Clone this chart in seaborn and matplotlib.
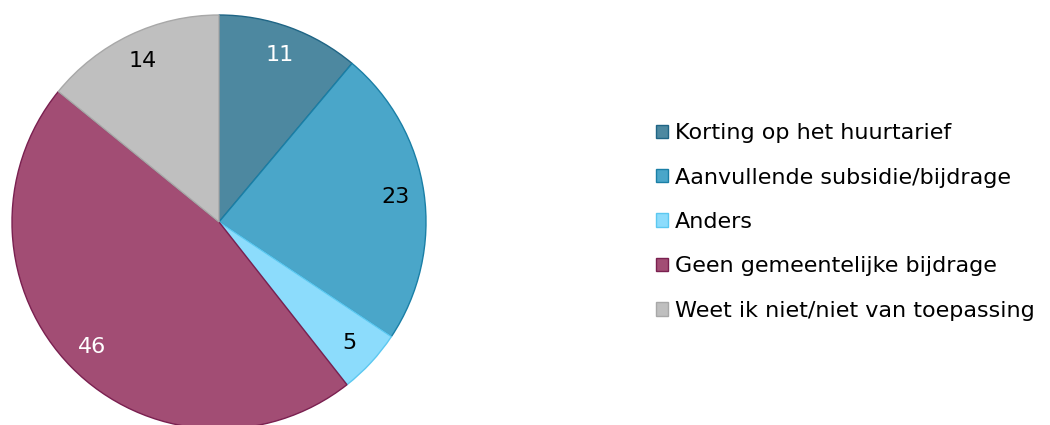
import matplotlib
matplotlib.use("Agg")
import matplotlib.pyplot as plt
import seaborn as sns
from matplotlib.patches import Patch

categories = ["Korting op het huurtarief", "Aanvullende subsidie/bijdrage", "Anders",
              "Geen gemeentelijke bijdrage", "Weet ik niet/niet van toepassing"]
values = [11, 23, 5, 46, 14]
fill_colors = ["#4d88a0", "#4aa6c9", "#8cdcfc", "#a24d74", "#bfbfbf"]
edge_colors = ["#1f6585", "#1a7fa6", "#5cc8f0", "#7a2050", "#a8a8a8"]
label_colors = ["white", "black", "black", "white", "black"]

sns.set_theme(style="white")
plt.rcParams["font.family"] = ["DejaVu Sans"]

W, H = 1050, 425
fig = plt.figure(figsize=(W / 100, H / 100), dpi=100)

cx, cy, r = 219, 222, 207
ax = fig.add_axes([(cx - r) / W, (H - cy - r) / H, 2 * r / W, 2 * r / H])

palette = sns.color_palette(fill_colors)
wedges, texts = ax.pie(values, colors=palette, startangle=90, counterclock=False,
                       labels=[str(v) for v in values], labeldistance=0.86,
                       wedgeprops=dict(linewidth=1.0))
for w, ec in zip(wedges, edge_colors):
    w.set_edgecolor(ec)
for t, c in zip(texts, label_colors):
    t.set_color(c)
    t.set_fontsize(16)
    t.set_ha("center")
    t.set_va("center")
ax.set_aspect("equal")
ax.set_xlim(-1, 1)
ax.set_ylim(-1, 1)
ax.axis("off")

handles = [Patch(facecolor=f, edgecolor=e, linewidth=1.0) for f, e in zip(fill_colors, edge_colors)]
leg = fig.legend(handles, categories, loc="center left", bbox_to_anchor=(656 / W, 1 - 222 / H),
                 frameon=False, fontsize=16, handlelength=0.55, handleheight=0.55,
                 handletextpad=0.3, labelspacing=1.1, borderpad=0, borderaxespad=0)
for t in leg.get_texts():
    t.set_color("black")

fig.savefig("out.png", dpi=100)
